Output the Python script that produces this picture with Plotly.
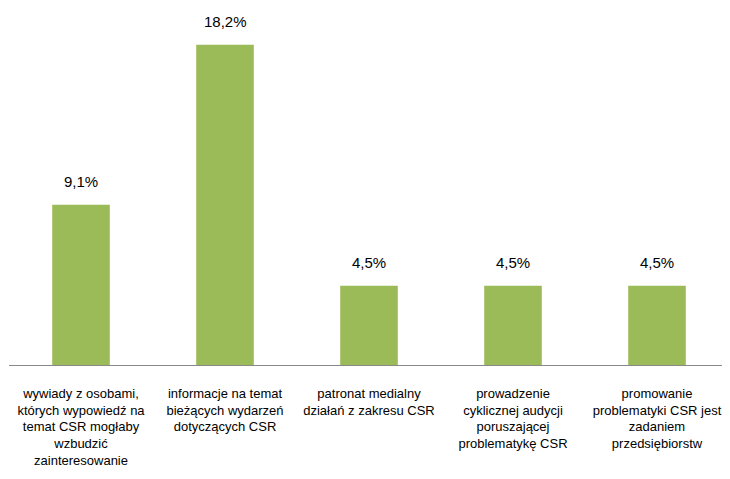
import plotly.graph_objects as go

categories = [
    "wywiady z osobami,<br>których wypowiedź na<br>temat CSR mogłaby<br>wzbudzić<br>zainteresowanie",
    "informacje na temat<br>bieżących wydarzeń<br>dotyczących CSR",
    "patronat medialny<br>działań z zakresu CSR",
    "prowadzenie<br>cyklicznej audycji<br>poruszającej<br>problematykę CSR",
    "promowanie<br>problematyki CSR jest<br>zadaniem<br>przedsiębiorstw",
]
values = [9.1, 18.2, 4.5, 4.5, 4.5]
value_labels = ["9,1%", "18,2%", "4,5%", "4,5%", "4,5%"]

fig = go.Figure()
fig.add_trace(go.Bar(
    x=categories, y=values,
    marker=dict(color="#9BBB59", line=dict(width=0)),
    width=0.4,
))
for c, v, t in zip(categories, values, value_labels):
    fig.add_annotation(x=c, y=v, text=t, showarrow=False, yanchor="bottom", yshift=13,
                       font=dict(family="Liberation Sans, Arial, sans-serif", size=15, color="#000000"))

fig.update_layout(
    width=730, height=479,
    margin=dict(l=1, r=9, t=5, b=122),
    paper_bgcolor="white", plot_bgcolor="white",
    showlegend=False,
    xaxis=dict(showline=True, linecolor="#898989", linewidth=1, ticks="", showgrid=False,
               tickangle=0, ticklabelstandoff=16, automargin=False,
               tickfont=dict(family="Liberation Sans, Arial, sans-serif", size=13, color="#000000")),
    yaxis=dict(range=[0, 20], visible=False, showgrid=False, automargin=False),
)
fig.write_html("out.html")
